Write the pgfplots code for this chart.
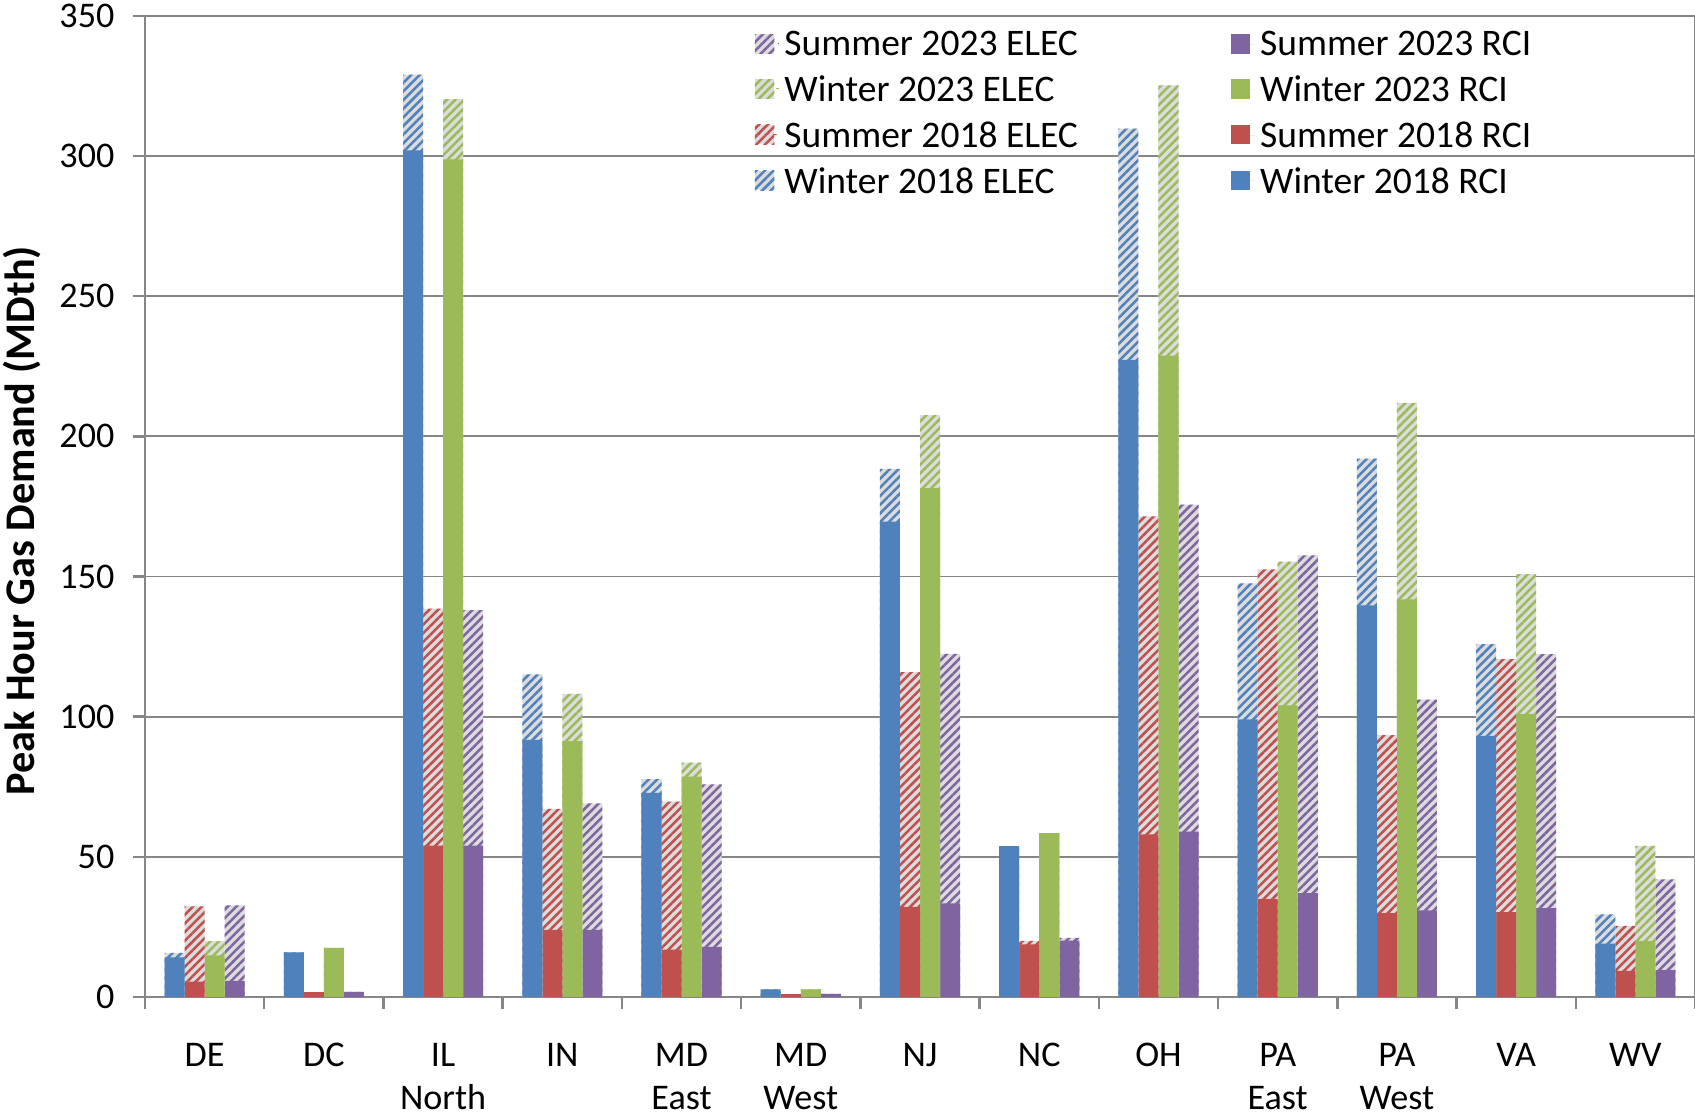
\documentclass[border=0pt]{standalone}
\usepackage{pgfplots}
\pgfplotsset{compat=1.18}
\usepackage{pgfplotstable}
\usetikzlibrary{patterns.meta}
\usepackage{fontspec}
\setmainfont{Carlito}
\definecolor{cW18}{HTML}{4F81BD}
\definecolor{cS18}{HTML}{C0504D}
\definecolor{cW23}{HTML}{9BBB59}
\definecolor{cS23}{HTML}{8064A2}
\definecolor{hbg}{HTML}{DCDCDC}
\definecolor{axgray}{HTML}{868686}

% r = RCI, e = ELEC (stacked on top of RCI)
\pgfplotstableread{
x  w18r  w18e  s18r  s18e  w23r  w23e  s23r  s23e
0  14.1  1.6   5.5   26.8  14.8  5.1   5.7   27.0
1  15.9  0     1.7   0     17.5  0     1.8   0
2  302.0 27.0  54.0  84.5  298.8 21.5  54.0  84.0
3  91.7  23.4  23.9  43.2  91.3  16.8  23.9  45.2
4  72.8  4.9   16.9  52.8  78.6  5.0   17.9  57.9
5  2.7   0     1.0   0     2.7   0     1.1   0
6  169.6 18.8  32.1  83.8  181.5 26.1  33.4  89.0
7  53.8  0     18.8  1.2   58.4  0     20.1  1.0
8  227.3 82.5  58.0  113.4 228.8 96.4  59.0  116.6
9  99.0  48.5  35.0  117.5 104.0 51.3  37.0  120.5
10 139.7 52.3  29.9  63.5  141.8 70.1  30.9  75.2
11 93.1  32.8  30.3  90.2  100.9 49.9  31.7  90.6
12 19.0  10.5  9.3   16.1  20.0  33.9  9.6   32.3
}\data

\tikzset{
  elec/.style={fill=hbg, draw=none, postaction={pattern={Lines[angle=45,distance=2.2pt,line width=0.9pt]}, pattern color=#1}},
  rci/.style={fill=#1, draw=none},
}

\begin{document}
\begin{tikzpicture}
\begin{axis}[
  name=ax,
  scale only axis, width=558pt, height=353.2pt,
  xmin=-0.5, xmax=12.5, ymin=0, ymax=350,
  ybar, bar width=0.168,
  ytick={0,50,...,350},
  ymajorgrids, grid style={axgray, line width=0.7pt},
  axis line style={axgray, line width=0.9pt},
  tick style={axgray, line width=0.9pt},
  tick align=outside, major tick length=4.5pt,
  xtick pos=bottom, ytick pos=left,
  xtick={-0.5,0.5,...,12.5}, xticklabels={},
  extra x ticks={0,1,2,3,4,5,6,7,8,9,10,11,12},
  extra x tick labels={DE,DC,IL\\North,IN,MD\\East,MD\\West,NJ,NC,OH,PA\\East,PA\\West,VA,WV},
  extra x tick style={major tick length=0pt, tick label style={align=center, font=\fontsize{13}{15.5}\selectfont, yshift=-13.2pt}},
  yticklabel style={font=\fontsize{13}{15}\selectfont, xshift=-3pt},
  /pgf/number format/assume math mode=true,
  ylabel={Peak Hour Gas Demand (MDth)},
  ylabel style={at={(axis description cs:-0.0796,0.4853)}, anchor=center, font=\bfseries\fontsize{15.2}{18}\selectfont},
  legend columns=2,
  legend cell align=left,
  legend image code/.code={\path[#1, draw=none] (0pt,-2.8pt) rectangle (7pt,4.2pt); \path (0pt,0.7pt) rectangle (8.6pt,0.7pt);},
  legend style={at={(axis description cs:0.3878,0.9958)}, anchor=north west, draw=none, fill=none,
     font=\fontsize{13.5}{16}\selectfont, row sep=1.7pt,
     /tikz/every even column/.append style={column sep=53pt}},
]
\addplot[elec=cS23, bar shift=0.252] table[x=x, y expr=\thisrow{s23r}+\thisrow{s23e}] {\data};
\addlegendentry{Summer 2023 ELEC}
\addplot[rci=cS23, bar shift=0.252] table[x=x, y=s23r] {\data};
\addlegendentry{Summer 2023 RCI}
\addplot[elec=cW23, bar shift=0.084] table[x=x, y expr=\thisrow{w23r}+\thisrow{w23e}] {\data};
\addlegendentry{Winter 2023 ELEC}
\addplot[rci=cW23, bar shift=0.084] table[x=x, y=w23r] {\data};
\addlegendentry{Winter 2023 RCI}
\addplot[elec=cS18, bar shift=-0.084] table[x=x, y expr=\thisrow{s18r}+\thisrow{s18e}] {\data};
\addlegendentry{Summer 2018 ELEC}
\addplot[rci=cS18, bar shift=-0.084] table[x=x, y=s18r] {\data};
\addlegendentry{Summer 2018 RCI}
\addplot[elec=cW18, bar shift=-0.252] table[x=x, y expr=\thisrow{w18r}+\thisrow{w18e}] {\data};
\addlegendentry{Winter 2018 ELEC}
\addplot[rci=cW18, bar shift=-0.252] table[x=x, y=w18r] {\data};
\addlegendentry{Winter 2018 RCI}
\end{axis}
\pgfresetboundingbox
\path[use as bounding box] ([xshift=-52.2pt,yshift=-43.2pt]ax.south west) rectangle ([yshift=5.7pt]ax.north east);
\end{tikzpicture}
\end{document}
